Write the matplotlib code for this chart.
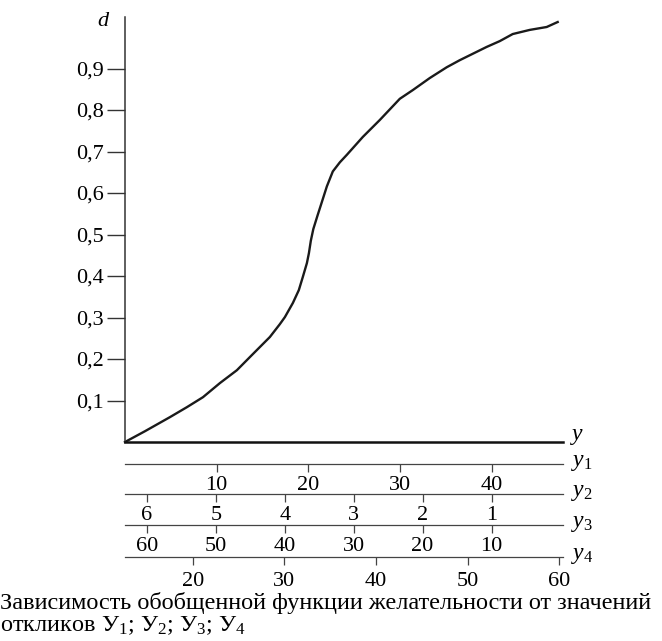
import matplotlib
matplotlib.use('Agg')
import matplotlib.pyplot as plt

plt.rcParams['font.family'] = ['Liberation Serif', 'DejaVu Serif']
plt.rcParams['mathtext.fontset'] = 'custom'
plt.rcParams['mathtext.rm'] = 'Liberation Serif'
plt.rcParams['mathtext.it'] = 'Liberation Serif:italic'

# desirability curve, x given in units of the y1 scale
curve_y1 = [0, 2.18, 4.91, 6.76, 8.51, 10.36, 12.21, 13.96, 15.81, 16.90,
            17.45, 18.32, 18.97, 19.41, 19.85, 20.07, 20.28, 20.55, 21.00,
            21.48, 22.03, 22.68, 23.45, 24.21, 25.95, 27.81, 29.99, 31.41,
            33.26, 35.11, 36.53, 39.47, 40.90, 42.31, 44.17, 46.02, 47.22]
curve_d = [0, 0.026, 0.060, 0.084, 0.108, 0.142, 0.173, 0.212, 0.253, 0.284,
           0.301, 0.335, 0.366, 0.398, 0.431, 0.455, 0.485, 0.513, 0.545,
           0.578, 0.616, 0.652, 0.674, 0.692, 0.735, 0.776, 0.827, 0.848,
           0.877, 0.903, 0.920, 0.952, 0.966, 0.983, 0.993, 1.000, 1.012]

d_ticks = [0.1, 0.2, 0.3, 0.4, 0.5, 0.6, 0.7, 0.8, 0.9]
d_labels = ['0,1', '0,2', '0,3', '0,4', '0,5', '0,6', '0,7', '0,8', '0,9']

y1_ticks = [10, 20, 30, 40]
y2_ticks = [6, 5, 4, 3, 2, 1]
y3_ticks = [60, 50, 40, 30, 20, 10]
y4_ticks = [20, 30, 40, 50, 60]

caption1 = 'Зависимость обобщенной функции желательности от значений'
caption2 = r'откликов У${}_1$; У${}_2$; У${}_3$; У${}_4$'


# where each response scale sits against y1
def y1_pos(v):
    return v


def y2_pos(v):
    return 47.52 - 7.52 * v


def y3_pos(v):
    return 47.52 - 0.752 * v


def y4_pos(v):
    return v - 12.6


W, H = 662, 641
XMAX = 47.8
fig = plt.figure(figsize=(W / 100, H / 100), dpi=100)

ax = fig.add_axes([125 / W, 1 - 442 / H, (563 - 125) / W, (442 - 17) / H])
ax.set_xlim(0, XMAX)
ax.set_ylim(0, (442 - 17) / 415)
for s in ('top', 'right'):
    ax.spines[s].set_visible(False)
ax.spines['bottom'].set_linewidth(1.8)
ax.spines['bottom'].set_color('#111111')
ax.spines['left'].set_linewidth(1.1)
ax.spines['left'].set_color('#333333')
ax.set_xticks([])
ax.set_yticks(d_ticks, d_labels)
ax.tick_params(axis='y', direction='out', length=13, width=1.0,
               color='#333333', pad=2, labelsize=16)
ax.plot(curve_y1, curve_d, color='#1a1a1a', lw=1.7, clip_on=False,
        solid_joinstyle='round')

# (line position px, tick positions, labels, name, label pad)
scales = [
    (464, [y1_pos(v) for v in y1_ticks], y1_ticks, r'$y_1$', 2.8),
    (494, [y2_pos(v) for v in y2_ticks], y2_ticks, r'$y_2$', 2.8),
    (525, [y3_pos(v) for v in y3_ticks], y3_ticks, r'$y_3$', 2.8),
    (557, [y4_pos(v) for v in y4_ticks], y4_ticks, r'$y_4$', 4.8),
]
for py, pos, labels, name, pad in scales:
    sax = fig.add_axes([125 / W, 1 - py / H, (563 - 125) / W, 0.01])
    sax.set_xlim(0, XMAX)
    sax.patch.set_visible(False)
    for s in ('top', 'right', 'left'):
        sax.spines[s].set_visible(False)
    sax.spines['bottom'].set_linewidth(0.9)
    sax.spines['bottom'].set_color('#444444')
    sax.set_yticks([])
    sax.set_xticks(pos, [str(v) for v in labels])
    sax.tick_params(axis='x', direction='out', length=6, width=0.9,
                    color='#444444', pad=pad, labelsize=16)
    fig.text(571 / W, 1 - (py + 2) / H, name, fontsize=17, va='baseline')

fig.text(570 / W, 1 - 440 / H, r'$y$', fontsize=17, va='baseline')
fig.text(104 / W, 1 - 21 / H, r'$d$', fontsize=16, ha='center', va='center')

fig.text(0.0, 1 - 603 / H, caption1, fontsize=17.5, va='center')
fig.text(0.0, 1 - 626 / H, caption2, fontsize=17.5, va='center')

fig.savefig('out.png', dpi=100)
